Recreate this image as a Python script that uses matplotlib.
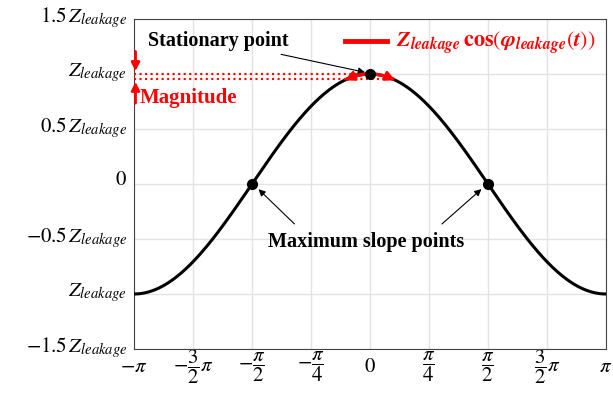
import numpy as np
import matplotlib
matplotlib.use('Agg')
import matplotlib.pyplot as plt
from matplotlib.transforms import ScaledTranslation

plt.rcParams['mathtext.fontset'] = 'stix'
plt.rcParams['font.family'] = 'Liberation Serif'

# data
phase = np.linspace(-np.pi, np.pi, 400)
amplitude = np.cos(phase)
key_x = [-np.pi / 2, 0, np.pi / 2]
key_y = [0, 1, 0]
magnitude_low = 0.955
arc_half = 0.30

xticks = [-np.pi, -3 * np.pi / 4, -np.pi / 2, -np.pi / 4, 0, np.pi / 4, np.pi / 2, 3 * np.pi / 4, np.pi]
xlabels = [r'$-\pi$', r'$-\dfrac{3}{2}\pi$', r'$-\dfrac{\pi}{2}$', r'$-\dfrac{\pi}{4}$', r'$0$',
           r'$\dfrac{\pi}{4}$', r'$\dfrac{\pi}{2}$', r'$\dfrac{3}{2}\pi$', r'$\pi$']
yticks = [-1.5, -1, -0.5, 0, 0.5, 1, 1.5]
ylabels = [r'$-1.5\,Z_{leakage}$', r'$Z_{leakage}$', r'$-0.5\,Z_{leakage}$', r'$0$',
           r'$0.5\,Z_{leakage}$', r'$Z_{leakage}$', r'$1.5\,Z_{leakage}$']

fig = plt.figure(figsize=(6.13, 4.03), dpi=100)
ax = fig.add_axes([134 / 613, 1 - 349 / 403, 472 / 613, 330 / 403])

ax.plot(phase, amplitude, color='black', lw=2.2, zorder=3)
ax.plot(key_x, key_y, 'o', color='black', ms=7, zorder=5)

# red arc near the stationary point
arc_x = np.linspace(-arc_half, arc_half, 60)
ax.plot(arc_x, np.cos(arc_x), color='red', lw=2.5, zorder=4)
for s in (-1, 1):
    ax.annotate('', xy=(s * (arc_half + 0.07), np.cos(arc_half + 0.07)),
                xytext=(s * (arc_half - 0.05), np.cos(arc_half - 0.05)),
                arrowprops=dict(arrowstyle='-|>', color='red', lw=2, mutation_scale=14), zorder=6)

# dotted magnitude lines
ax.plot([-np.pi, 0], [1, 1], color='red', ls=':', lw=1.5, zorder=4)
ax.plot([-np.pi, arc_half], [magnitude_low, magnitude_low], color='red', ls=':', lw=1.5, zorder=4)
ax.annotate('', xy=(-np.pi + 0.02, 1.0), xytext=(-np.pi + 0.02, 1.23),
            arrowprops=dict(arrowstyle='-|>', color='red', lw=2, mutation_scale=12))
ax.annotate('', xy=(-np.pi + 0.02, magnitude_low), xytext=(-np.pi + 0.02, 0.71),
            arrowprops=dict(arrowstyle='-|>', color='red', lw=2, mutation_scale=12))
ax.text(-np.pi + 0.08, 0.78, 'Magnitude', color='red', fontsize=15, fontweight='bold', va='center')

ax.annotate('Stationary point', xy=(-0.03, 1.01), xytext=(-2.95, 1.30),
            fontsize=14.5, fontweight='bold', ha='left', va='center',
            arrowprops=dict(arrowstyle='-|>', color='black', lw=0.8, mutation_scale=10))
ax.annotate('', xy=(-np.pi / 2 + 0.06, -0.03), xytext=(-0.98, -0.38),
            arrowprops=dict(arrowstyle='-|>', color='black', lw=0.8, mutation_scale=10))
ax.annotate('', xy=(np.pi / 2 - 0.06, -0.03), xytext=(0.93, -0.38),
            arrowprops=dict(arrowstyle='-|>', color='black', lw=0.8, mutation_scale=10))
ax.text(-0.05, -0.53, 'Maximum slope points', fontsize=14.5, fontweight='bold', ha='center', va='center')

ax.plot([], [], color='red', lw=3.5,
        label=r'$\mathbfit{Z}_{\mathbfit{leakage}}\,\mathbf{cos}(\mathbfit{\varphi}_{\mathbfit{leakage}}(\mathbfit{t}))$')
leg = ax.legend(loc='upper right', frameon=False, fontsize=16, handlelength=1.9,
                borderaxespad=0.1, handletextpad=0.4)
for t in leg.get_texts():
    t.set_color('red')

ax.set_xlim(-np.pi, np.pi)
ax.set_ylim(-1.5, 1.5)
ax.grid(True, color='#e3e3e3', lw=1)
ax.tick_params(length=0, pad=5)
ax.tick_params(axis='x', pad=13)
ax.set_xticks(xticks)
ax.set_xticklabels(xlabels, fontsize=15)
ax.set_yticks(yticks)
ax.set_yticklabels(ylabels, fontsize=15)
for lab in ax.get_xticklabels():
    lab.set_va('center')
# lift the y labels a little, like the reference
shift_up = ScaledTranslation(0, 4 / 72, fig.dpi_scale_trans)
for lab in ax.get_yticklabels():
    lab.set_transform(lab.get_transform() + shift_up)
for sp in ax.spines.values():
    sp.set_color('#444444')

fig.savefig('out.png', dpi=100)
